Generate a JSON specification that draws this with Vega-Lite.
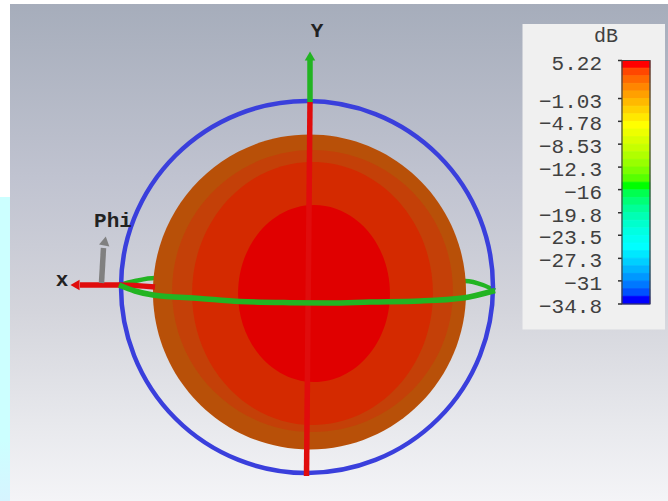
{"$schema":"https://vega.github.io/schema/vega-lite/v6.json","width":668,"height":501,"padding":0,"autosize":{"type":"none"},"background":"#ffffff","view":{"stroke":null},
"datasets":{
"backdrop":[{"x":10,"x2":668,"y":4,"y2":501}],
"strip":[{"x":0,"x2":10,"y":197,"y2":501}],
"panel":[{"x":522.5,"x2":665,"y":24,"y2":329.5}],
"sphere":[{"x":309.5,"y":292,"h":315,"level":"a"},{"x":312.5,"y":291,"h":282,"level":"b"},{"x":312.5,"y":293.5,"h":263,"level":"c"},{"x":314,"y":293.5,"h":177,"level":"d"}],
"boundary":[{"x":307,"y":287,"h":372}],
"lines":[
{"s":"ringback","i":0,"x":119,"y":285},{"s":"ringback","i":1,"x":135,"y":281},{"s":"ringback","i":2,"x":155,"y":278},
{"s":"ringback","i":3,"x":465,"y":281},{"s":"ringback","i":4,"x":483,"y":285},{"s":"ringback","i":5,"x":495,"y":290.5}],
"front":[
{"s":"xaxis","i":0,"x":80,"y":285},{"s":"xaxis","i":1,"x":119,"y":285},{"s":"xaxis","i":2,"x":155,"y":287},
{"s":"yaxis","i":0,"x":310,"y":102},{"s":"yaxis","i":1,"x":306.5,"y":476},
{"s":"ygreen","i":0,"x":310,"y":102},{"s":"ygreen","i":1,"x":310,"y":60},
{"s":"phi","i":0,"x":101.5,"y":283},{"s":"phi","i":1,"x":103.5,"y":248},
{"s":"ring","i":0,"x":119,"y":285},{"s":"ring","i":1,"x":135,"y":291},{"s":"ring","i":2,"x":153,"y":295},{"s":"ring","i":3,"x":200,"y":298.5},{"s":"ring","i":4,"x":240,"y":301.5},{"s":"ring","i":5,"x":290,"y":302.7},{"s":"ring","i":6,"x":330,"y":303},{"s":"ring","i":7,"x":370,"y":302},{"s":"ring","i":8,"x":420,"y":301},{"s":"ring","i":9,"x":463,"y":298},{"s":"ring","i":10,"x":495,"y":290.5}],
"heads":[{"x":310,"y":56,"s":"ygreen"},{"x":75,"y":285,"s":"xaxis"}],
"bands":[{"db":5.22,"db2":3.97},{"db":3.97,"db2":2.72},{"db":2.72,"db2":1.47},{"db":1.47,"db2":0.22},{"db":0.22,"db2":-1.03},{"db":-1.03,"db2":-2.28},{"db":-2.28,"db2":-3.53},{"db":-3.53,"db2":-4.78},{"db":-4.78,"db2":-6.03},{"db":-6.03,"db2":-7.28},{"db":-7.28,"db2":-8.53},{"db":-8.53,"db2":-9.78},{"db":-9.78,"db2":-11.03},{"db":-11.03,"db2":-12.28},{"db":-12.28,"db2":-13.53},{"db":-13.53,"db2":-14.78},{"db":-14.78,"db2":-16.03},{"db":-16.03,"db2":-17.28},{"db":-17.28,"db2":-18.53},{"db":-18.53,"db2":-19.78},{"db":-19.78,"db2":-21.03},{"db":-21.03,"db2":-22.28},{"db":-22.28,"db2":-23.53},{"db":-23.53,"db2":-24.78},{"db":-24.78,"db2":-26.03},{"db":-26.03,"db2":-27.28},{"db":-27.28,"db2":-28.53},{"db":-28.53,"db2":-29.78},{"db":-29.78,"db2":-31.03},{"db":-31.03,"db2":-32.28},{"db":-32.28,"db2":-33.53},{"db":-33.53,"db2":-34.8}],
"ticks":[{"db":5.22,"label":"5.22"},{"db":-1.03,"label":"−1.03"},{"db":-4.78,"label":"−4.78"},{"db":-8.53,"label":"−8.53"},{"db":-12.3,"label":"−12.3"},{"db":-16,"label":"−16"},{"db":-19.8,"label":"−19.8"},{"db":-23.5,"label":"−23.5"},{"db":-27.3,"label":"−27.3"},{"db":-31,"label":"−31"},{"db":-34.8,"label":"−34.8"}],
"unitlabel":[{"x":618,"y":36,"t":"dB"}],
"axislabels":[{"x":62,"y":280,"t":"x"},{"x":317,"y":31,"t":"Y"},{"x":113,"y":221,"t":"Phi"}]
},
"layer":[
{"data":{"name":"backdrop"},"mark":{"type":"rect","fill":{"gradient":"linear","x1":0,"y1":0,"x2":0,"y2":1,"stops":[{"offset":0,"color":"#a6adbb"},{"offset":0.35,"color":"#c0c3d0"},{"offset":0.62,"color":"#d4d5dc"},{"offset":0.85,"color":"#e8e9ed"},{"offset":1,"color":"#f4f4f7"}]}},
"encoding":{"x":{"field":"x","type":"quantitative","scale":{"domain":[0,668]},"axis":null},"x2":{"field":"x2"},"y":{"field":"y","type":"quantitative","scale":{"domain":[501,0]},"axis":null},"y2":{"field":"y2"}}},
{"data":{"name":"strip"},"mark":{"type":"rect","fill":{"gradient":"linear","x1":0,"y1":0,"x2":0,"y2":1,"stops":[{"offset":0,"color":"#ccffff"},{"offset":0.8,"color":"#ccffff"},{"offset":1,"color":"#d6f4ff"}]}},
"encoding":{"x":{"field":"x","type":"quantitative","scale":{"domain":[0,668]},"axis":null},"x2":{"field":"x2"},"y":{"field":"y","type":"quantitative","scale":{"domain":[501,0]},"axis":null},"y2":{"field":"y2"}}},
{"data":{"name":"lines"},"mark":{"type":"line","stroke":"#22b422","strokeWidth":4.5,"interpolate":"monotone"},
"encoding":{"x":{"field":"x","type":"quantitative","scale":{"domain":[0,668]},"axis":null},"y":{"field":"y","type":"quantitative","scale":{"domain":[501,0]},"axis":null},"detail":{"field":"s"},"order":{"field":"i"}}},
{"data":{"name":"sphere"},"mark":{"type":"point","filled":true,"opacity":1,"strokeWidth":0},
"encoding":{"x":{"field":"x","type":"quantitative","scale":{"domain":[0,668]},"axis":null},"y":{"field":"y","type":"quantitative","scale":{"domain":[501,0]},"axis":null},
"size":{"field":"h","type":"quantitative","legend":null,"scale":{"type":"pow","exponent":2,"domain":[0,400],"range":[0,160000]}},
"shape":{"field":"level","type":"nominal","legend":null,"scale":{"domain":["a","b","c","d"],"range":["M -0.994,0 A 0.994,1 0 1,1 0.994,0 A 0.994,1 0 1,1 -0.994,0 Z","M -0.996,0 A 0.996,1 0 1,1 0.996,0 A 0.996,1 0 1,1 -0.996,0 Z","M -0.916,0 A 0.916,1 0 1,1 0.916,0 A 0.916,1 0 1,1 -0.916,0 Z","M -0.858,0 A 0.858,1 0 1,1 0.858,0 A 0.858,1 0 1,1 -0.858,0 Z"]}},
"fill":{"field":"level","type":"nominal","legend":null,"scale":{"domain":["a","b","c","d"],"range":["#b85008","#c44008","#d42a00","#e00000"]}}}},
{"data":{"name":"boundary"},"mark":{"type":"point","shape":"circle","filled":false,"opacity":1,"stroke":"#3a3fdc","strokeWidth":4.5},
"encoding":{"x":{"field":"x","type":"quantitative","scale":{"domain":[0,668]},"axis":null},"y":{"field":"y","type":"quantitative","scale":{"domain":[501,0]},"axis":null},
"size":{"field":"h","type":"quantitative","legend":null,"scale":{"type":"pow","exponent":2,"domain":[0,400],"range":[0,160000]}}}},
{"data":{"name":"front"},"mark":{"type":"line","strokeWidth":5.5,"interpolate":"monotone"},
"encoding":{"x":{"field":"x","type":"quantitative","scale":{"domain":[0,668]},"axis":null},"y":{"field":"y","type":"quantitative","scale":{"domain":[501,0]},"axis":null},"detail":{"field":"s"},"order":{"field":"i"},
"stroke":{"field":"s","type":"nominal","legend":null,"scale":{"domain":["xaxis","yaxis","ygreen","phi","ring"],"range":["#e00c0c","#e00c0c","#22b422","#808080","#22b422"]}}}},
{"data":{"name":"heads"},"mark":{"type":"point","filled":true,"opacity":1,"strokeWidth":0},
"encoding":{"x":{"field":"x","type":"quantitative","scale":{"domain":[0,668]},"axis":null},"y":{"field":"y","type":"quantitative","scale":{"domain":[501,0]},"axis":null},
"shape":{"field":"s","type":"nominal","legend":null,"scale":{"domain":["ygreen","xaxis"],"range":["triangle-up","triangle-left"]}},
"size":{"value":110},
"fill":{"field":"s","type":"nominal","legend":null,"scale":{"domain":["ygreen","xaxis"],"range":["#22b422","#e00c0c"]}}}},
{"data":{"values":[{"x":105,"y":241}]},"mark":{"type":"point","shape":"triangle-up","filled":true,"opacity":1,"strokeWidth":0,"fill":"#808080","size":110,"angle":10},
"encoding":{"x":{"field":"x","type":"quantitative","scale":{"domain":[0,668]},"axis":null},"y":{"field":"y","type":"quantitative","scale":{"domain":[501,0]},"axis":null}}},
{"data":{"name":"axislabels"},"mark":{"type":"text","font":"Liberation Mono","fontWeight":"bold","fontSize":21,"fill":"#222222","align":"center","baseline":"middle"},
"encoding":{"x":{"field":"x","type":"quantitative","scale":{"domain":[0,668]},"axis":null},"y":{"field":"y","type":"quantitative","scale":{"domain":[501,0]},"axis":null},"text":{"field":"t"}}},
{"data":{"name":"panel"},"mark":{"type":"rect","fill":"#f0f0f0"},
"encoding":{"x":{"field":"x","type":"quantitative","scale":{"domain":[0,668]},"axis":null},"x2":{"field":"x2"},"y":{"field":"y","type":"quantitative","scale":{"domain":[501,0]},"axis":null},"y2":{"field":"y2"}}},
{"data":{"name":"unitlabel"},"mark":{"type":"text","font":"Liberation Mono","fontSize":20,"fill":"#404040","align":"right","baseline":"middle"},
"encoding":{"x":{"field":"x","type":"quantitative","scale":{"domain":[0,668]},"axis":null},"y":{"field":"y","type":"quantitative","scale":{"domain":[501,0]},"axis":null},"text":{"field":"t"}}},
{"data":{"name":"bands"},"mark":{"type":"rect","x":622,"x2":650,"strokeWidth":0.8},
"encoding":{"y":{"field":"db","type":"quantitative","scale":{"domain":[-34.8,5.22],"range":[304,60.5]},"axis":null},"y2":{"field":"db2"},
"fill":{"field":"db","type":"quantitative","legend":null,"scale":{"domain":[5.22,-4.78,-14.78,-24.78,-33.53],"range":["#ff0000","#ffff00","#00ff00","#00ffff","#0000ff"]}},
"stroke":{"field":"db","type":"quantitative","legend":null,"scale":{"domain":[5.22,-4.78,-14.78,-24.78,-33.53],"range":["#ff0000","#ffff00","#00ff00","#00ffff","#0000ff"]}}}},
{"data":{"name":"ticks"},"mark":{"type":"rule","x":618,"x2":622,"stroke":"#303030","strokeWidth":1.5},
"encoding":{"y":{"field":"db","type":"quantitative","scale":{"domain":[-34.8,5.22],"range":[304,60.5]},"axis":null}}},
{"data":{"values":[{"db":5.22,"db2":-34.8}]},"mark":{"type":"rect","x":622,"x2":650,"fillOpacity":0,"stroke":"#404040","strokeWidth":1.2},
"encoding":{"y":{"field":"db","type":"quantitative","scale":{"domain":[-34.8,5.22],"range":[304,60.5]},"axis":null},"y2":{"field":"db2"}}},
{"data":{"name":"ticks"},"mark":{"type":"text","x":602,"dy":3,"font":"Liberation Mono","fontSize":21,"fill":"#404040","align":"right","baseline":"middle"},
"encoding":{"y":{"field":"db","type":"quantitative","scale":{"domain":[-34.8,5.22],"range":[304,60.5]},"axis":null},"text":{"field":"label"}}}
],
"resolve":{"scale":{"y":"independent","fill":"independent","stroke":"independent","size":"independent","shape":"independent"}}
}
